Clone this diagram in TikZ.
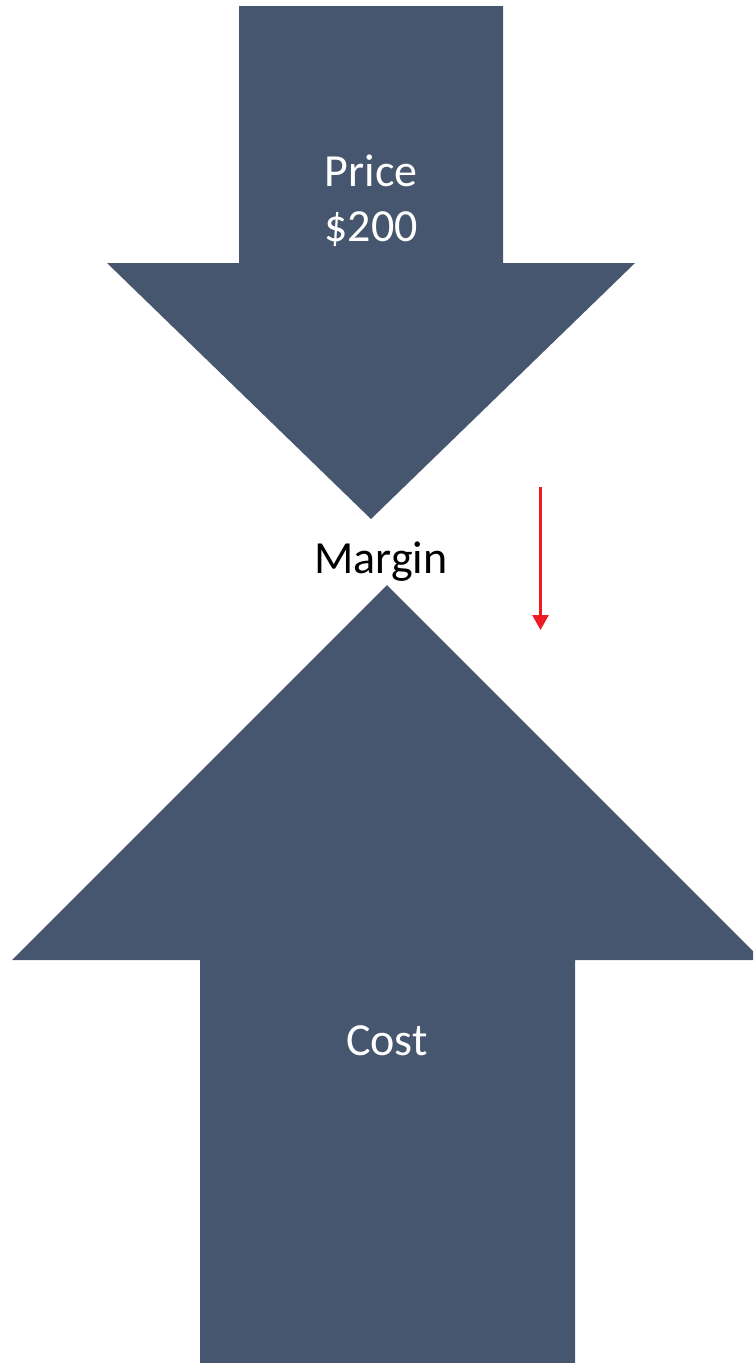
\documentclass[tikz,border=0pt]{standalone}
\usepackage{fontspec}
\setmainfont{Carlito}
\usetikzlibrary{arrows.meta}
\definecolor{slate}{HTML}{46566E}
\definecolor{redline}{HTML}{ED1C24}
\tikzset{
  bigarrow/.style={fill=slate, draw=none},
  lbl/.style={font=\fontsize{46}{55}\selectfont, inner sep=0pt, anchor=base, align=center},
  redarrow/.style={draw=redline, line width=2.6pt, -{Triangle[width=16pt,length=15pt]}}
}
\begin{document}
\begin{tikzpicture}[x=1pt,y=-1pt]
\useasboundingbox (0,0) rectangle (753,1363);
\clip (0,0) rectangle (753,1363);
% top (downward) arrow
\fill[bigarrow] (239,6) -- (503,6) -- (503,263) -- (635,263) -- (371,519) -- (107,263) -- (239,263) -- cycle;
% bottom (upward) arrow
\fill[bigarrow] (387,585) -- (762,960) -- (575,960) -- (575,1370) -- (200,1370) -- (200,960) -- (12,960) -- cycle;
% labels
\node[lbl, text=white] (price) at (371,241) {Price\\\$200};
\node[lbl, text=black] (margin) at (381,573) {Margin};
\node[lbl, text=white] (cost) at (387,1055) {Cost};
% red arrow
\coordinate (rs) at (540.5,487);
\coordinate (re) at (540.5,630);
\draw[redarrow] (rs) -- (re);
\end{tikzpicture}
\end{document}
